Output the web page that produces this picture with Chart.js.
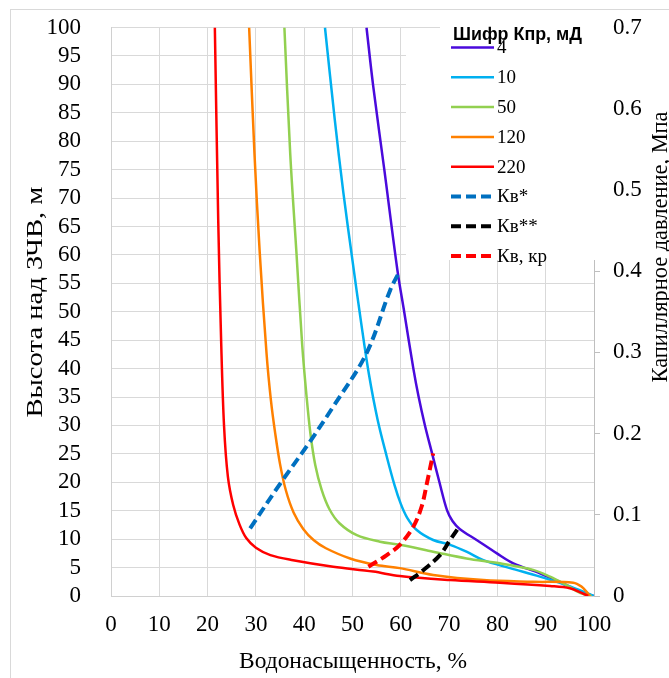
<!DOCTYPE html>
<html>
<head>
<meta charset="UTF-8">
<title>Капиллярные кривые</title>
<script src="https://cdn.jsdelivr.net/npm/chart.js@4.4.0/dist/chart.umd.min.js"></script>
<style>
  body { margin: 0; background: #fff; }
</style>
</head>
<body>
<canvas id="chart" width="669" height="678"></canvas>
<script>
// водонасыщенность, % (x) и высота над ЗЧВ, м (y)
const sw4 = [52.9, 54.3, 56.6, 59.3, 60.7, 62.6, 63.7, 65.0, 66.5, 68.0, 69.6, 70.7, 72.2, 75.7, 79.9, 83.3, 88.8, 93.6, 97.1, 100]
const h4 = [100, 89.6, 74.9, 57.3, 50, 40, 35, 30, 25, 20, 15, 13.2, 11.8, 9.85, 7.5, 5.75, 4.0, 2.2, 0.75, 0]

const sw10 = [44.3, 46.3, 48.1, 50.0, 51.8, 53.4, 55.2, 57.1, 58.7, 60.0, 61.3, 63.3, 66.7, 70.2, 73.6, 77.1, 82.6, 88.8, 94.3, 100]
const h10 = [100, 84, 71, 59, 48, 39, 31, 24.5, 19.5, 16.2, 13.8, 11.6, 9.85, 9.0, 7.8, 6.3, 4.9, 3.4, 1.9, 0]

const sw50 = [35.9, 37.1, 38.4, 39.6, 40.5, 41.3, 42.3, 43.6, 45.2, 47.3, 50.9, 55.7, 59.8, 66.7, 73.6, 80.5, 87.4, 90.9, 94.3, 97.2, 99.5]
const h50 = [100, 77.9, 60.3, 44, 35, 28.5, 23, 18.7, 15.3, 12.8, 10.7, 9.55, 9.0, 7.8, 6.6, 5.75, 4.6, 3.4, 1.9, 0.5, 0]

const sw120 = [28.6, 29.7, 30.8, 32.2, 33.1, 34.0, 35.0, 36.2, 37.8, 39.8, 42.0, 44.5, 49.5, 55.0, 59.8, 66.7, 77.1, 87.4, 95.7, 97.4, 98.8, 99.2]
const h120 = [100, 77.9, 60.3, 42.7, 34.5, 28.6, 23.2, 18.6, 14.7, 11.8, 9.8, 8.4, 6.6, 5.45, 4.9, 3.7, 2.8, 2.5, 2.35, 1.65, 0.4, 0]

const sw220 = [21.5, 22.2, 22.8, 23.4, 24.2, 25.3, 26.6, 28.0, 30.0, 33.0, 37.7, 46.0, 54.3, 59.8, 70.2, 80.5, 90.9, 95.0, 97.8, 98.8]
const h220 = [100, 66.1, 45, 30, 21, 16, 12.6, 10.2, 8.5, 7.2, 6.3, 5.15, 4.3, 3.5, 2.8, 2.35, 1.75, 1.35, 0.4, 0]

const swKv1 = [28.8, 35.3, 40.5, 46.0, 52.9, 57.8, 59.8]
const hKv1 = [11.9, 20.1, 26.3, 33.3, 42.7, 53.8, 57.2]

const swKv2 = [61.9, 64.3, 68.1, 70.2, 72.1]
const hKv2 = [2.8, 4.3, 7.2, 9.85, 12.2]

const swKvkr = [53.3, 57.1, 59.8, 62.6, 64.3, 65.4, 66.7]
const hKvkr = [5.15, 7.2, 9.0, 12.2, 15.7, 19.8, 25.1]

const names = ['4', '10', '50', '120', '220', 'Кв*', 'Кв**', 'Кв, кр']
const xs = [sw4, sw10, sw50, sw120, sw220, swKv1, swKv2, swKvkr]
const ys = [h4, h10, h50, h120, h220, hKv1, hKv2, hKvkr]

const colors = ['#4A0ADC', '#00B0F0', '#92D050', '#FF8000', '#FF0000', '#0070C0', '#000000', '#FF0000']
const dashed = [false, false, false, false, false, true, true, true]

const serif = '"Liberation Serif", "Times New Roman", serif'

const datasets = names.map((name, i) => ({
  label: name,
  data: xs[i].map((x, j) => ({x: x, y: ys[i][j]})),
  borderColor: colors[i],
  backgroundColor: colors[i],
  borderWidth: dashed[i] ? 4 : 2.5,
  borderDash: dashed[i] ? [10, 5] : [],
  pointRadius: 0,
  tension: 0.35,
  fill: false,
  order: -i,
  yAxisID: 'y'
}))

// текст, подогнанный по ширине
function fitText(c, text, x, y, width, font, rot) {
  c.save()
  c.font = font
  c.fillStyle = '#000'
  c.textAlign = 'center'
  c.textBaseline = 'middle'
  const sx = width / c.measureText(text).width
  c.translate(x, y)
  if (rot) c.rotate(rot)
  c.scale(sx, 1)
  c.fillText(text, 0, 0)
  c.restore()
}

const decor = {
  id: 'decor',
  beforeDraw(chart) {
    const c = chart.ctx
    c.save()
    c.fillStyle = '#fff'
    c.fillRect(0, 0, chart.width, chart.height)
    c.strokeStyle = '#d9d9d9'
    c.lineWidth = 1
    c.strokeRect(10.5, 9.5, 700, 700)
    c.restore()
  },
  afterDatasetsDraw(chart) {
    const c = chart.ctx
    c.save()
    // легенда поверх сетки
    c.fillStyle = '#fff'
    c.fillRect(406, 29, 198, 231)
    c.fillRect(440, 22, 164, 8)
    c.font = 'bold 18px "Liberation Sans", Arial, sans-serif'
    const tw = c.measureText('Шифр Кпр, мД').width
    c.restore()
    c.save()
    c.translate(453, 40)
    c.scale(129 / tw, 1)
    c.font = 'bold 18px "Liberation Sans", Arial, sans-serif'
    c.fillStyle = '#000'
    c.textBaseline = 'alphabetic'
    c.fillText('Шифр Кпр, мД', 0, 0)
    c.restore()
    c.save()
    chart.data.datasets.forEach((ds, i) => {
      const y = 47.5 + i * 29.8
      c.strokeStyle = ds.borderColor
      c.lineWidth = ds.borderWidth
      c.setLineDash(ds.borderDash)
      c.beginPath()
      c.moveTo(451, y)
      c.lineTo(494, y)
      c.stroke()
      c.setLineDash([])
      c.fillStyle = '#000'
      c.font = '19px ' + serif
      c.textBaseline = 'middle'
      c.textAlign = 'left'
      c.fillText(ds.label, 497, y + 1)
    })
    c.restore()
  },
  afterDraw(chart) {
    const c = chart.ctx
    fitText(c, 'Высота над ЗЧВ, м', 36, 302, 231, '23px ' + serif, -Math.PI / 2)
    fitText(c, 'Водонасыщенность, %', 353, 662, 228, '23px ' + serif, 0)
    fitText(c, 'Капиллярное давление, Мпа', 661, 247, 271, '23px ' + serif, -Math.PI / 2)
  }
}

function noPadV(s) { s.paddingTop = 0; s.paddingBottom = 0 }

const ctx = document.getElementById('chart').getContext('2d')
const chart = new Chart(ctx, {
  type: 'line',
  data: { datasets: datasets },
  options: {
    responsive: false,
    animation: false,
    events: [],
    layout: { padding: { top: 27.5, left: 0, right: 0, bottom: 0 } },
    plugins: { legend: { display: false }, tooltip: { enabled: false } },
    scales: {
      x: {
        type: 'linear',
        min: 0, max: 100,
        ticks: { stepSize: 10, autoSkip: false, color: '#000', padding: 15, font: { family: serif, size: 23 }, maxRotation: 0 },
        grid: { color: '#d9d9d9', drawTicks: false },
        border: { color: '#d0d0d0' },
        afterFit(s) { s.height = 82; s.paddingLeft = 0; s.paddingRight = 0 }
      },
      y: {
        type: 'linear',
        position: 'left',
        min: 0, max: 100,
        ticks: { stepSize: 5, autoSkip: false, color: '#000', padding: 30, font: { family: serif, size: 23 } },
        grid: { color: '#d9d9d9', drawTicks: false },
        border: { color: '#d0d0d0' },
        afterFit(s) { s.width = 111; noPadV(s) }
      },
      y2: {
        type: 'linear',
        position: 'right',
        min: 0, max: 0.7,
        ticks: {
          stepSize: 0.1, autoSkip: false, color: '#000', padding: 13, font: { family: serif, size: 23 },
          callback: v => String(Math.round(v * 10) / 10)
        },
        grid: { drawOnChartArea: false, color: '#bfbfbf', tickLength: 6 },
        border: { color: '#bfbfbf' },
        afterFit(s) { s.width = 75; noPadV(s) }
      }
    }
  },
  plugins: [decor]
})
</script>
</body>
</html>
